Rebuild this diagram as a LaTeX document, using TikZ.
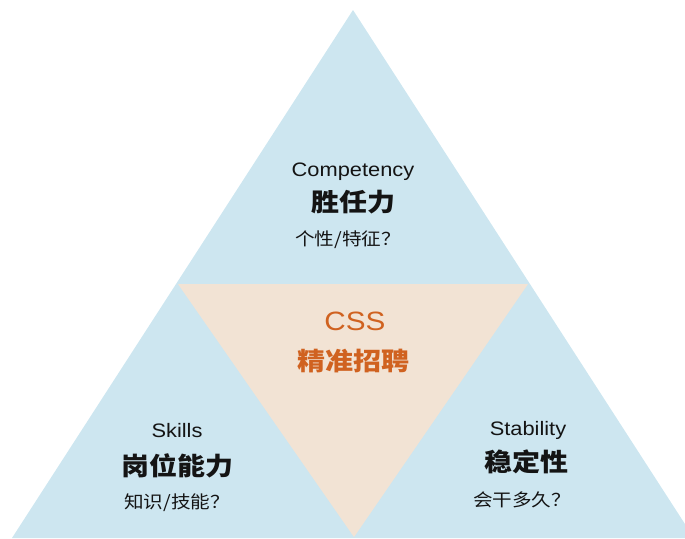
\documentclass[tikz,border=0pt]{standalone}
\usepackage{fontspec}
\usepackage{graphicx}
\setmainfont{Liberation Sans}
\newfontfamily\cjk{Noto Sans CJK SC}
\definecolor{skyfill}{RGB}{205,230,240}
\definecolor{peachfill}{RGB}{242,227,212}
\definecolor{cssorange}{RGB}{208,98,32}
\definecolor{ink}{RGB}{20,20,20}
% all labels are set slightly wide
\newcommand{\wide}[1]{\scalebox{1.12}[1]{#1}}
\begin{document}
\begin{tikzpicture}[x=1pt,y=-1pt,
  en/.style={text=ink, font=\fontsize{19.5}{20}\selectfont, inner sep=0pt, anchor=base},
  zh/.style={text=ink, font=\cjk\bfseries\fontsize{25}{26}\selectfont, inner sep=0pt},
  sub/.style={text=ink, font=\cjk\fontsize{17.5}{18}\selectfont, inner sep=0pt},
  core/.style={text=cssorange, inner sep=0pt}]
\useasboundingbox (0,0) rectangle (685,538);
\clip (0,0) rectangle (685,538);

% outer pyramid and the inverted core triangle
\fill[skyfill] (353,10) -- (694,538) -- (12,538) -- cycle;
\fill[peachfill] (178,284) -- (528,284) -- (354,537) -- cycle;

% top: competency
\node[en] (compEn) at (353,176) {\wide{Competency}};
\node[zh] (compZh) at (353,202) {\wide{胜任力}};
\node[sub] (compQ) at (348,240) {\wide{个性/特征？}};

% centre: CSS
\node[core, anchor=base, font=\fontsize{26.5}{27}\selectfont] (cssEn) at (355,330) {\wide{CSS}};
\node[core, font=\cjk\bfseries\fontsize{25}{26}\selectfont] (cssZh) at (353,361) {\wide{精准招聘}};

% left: skills
\node[en] (skillEn) at (177,437) {\wide{Skills}};
\node[zh] (skillZh) at (177,466) {\wide{岗位能力}};
\node[sub] (skillQ) at (177,503) {\wide{知识/技能？}};

% right: stability
\node[en] (stabEn) at (528,435) {\wide{Stability}};
\node[zh] (stabZh) at (526,462) {\wide{稳定性}};
\node[sub] (stabQ) at (522,500) {\wide{会干多久？}};
\end{tikzpicture}
\end{document}
